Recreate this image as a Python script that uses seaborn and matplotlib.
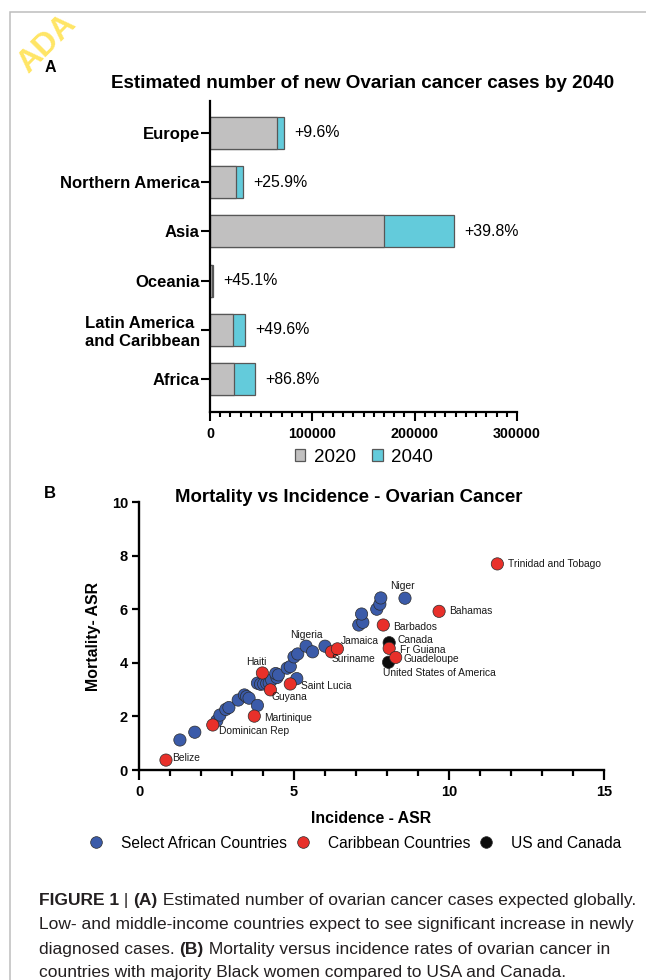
"""
Figure 1: ovarian cancer cases by region (A) and mortality vs incidence (B).
"""

import pandas as pd
import numpy as np
import matplotlib.pyplot as plt
import seaborn as sns
from matplotlib import font_manager
from matplotlib.ticker import MultipleLocator
from matplotlib.transforms import IdentityTransform
import warnings
warnings.filterwarnings('ignore')

sns.set_style('ticks')
plt.rcParams['font.family'] = ['Liberation Sans', 'DejaVu Sans']
for key in ['text.color', 'axes.labelcolor', 'xtick.color', 'ytick.color', 'axes.edgecolor']:
    plt.rcParams[key] = 'black'

# ---------- Data: panel A ----------
regions = ['Europe', 'Northern America', 'Asia', 'Oceania',
           'Latin America\nand Caribbean', 'Africa']
cases_2020 = [65800, 25700, 170000, 1900, 22800, 23400]
cases_2040 = [72600, 32500, 238300, 2800, 34300, 44300]
pct_change = ['+9.6%', '+25.9%', '+39.8%', '+45.1%', '+49.6%', '+86.8%']

# ---------- Data: panel B ----------
african_inc = [1.32, 1.80, 2.51, 2.61, 2.80, 2.90, 3.20, 3.40, 3.47, 3.55, 3.82,
               3.82, 3.92, 4.02, 4.12, 4.20, 4.28, 4.45, 4.41, 4.50, 4.78, 4.88,
               5.09, 5.00, 5.12, 5.39, 5.60, 6.00, 7.09, 7.22, 7.18, 7.67, 7.77,
               7.80, 8.58]
african_mort = [1.12, 1.41, 1.84, 2.05, 2.26, 2.33, 2.61, 2.80, 2.74, 2.68, 2.41,
                3.24, 3.20, 3.21, 3.23, 3.25, 3.36, 3.45, 3.60, 3.55, 3.80, 3.86,
                3.41, 4.22, 4.33, 4.62, 4.41, 4.62, 5.41, 5.51, 5.82, 6.00, 6.19,
                6.42, 6.41]

carib_names = ['Belize', 'Dominican Rep', 'Martinique', 'Haiti', 'Guyana',
               'Saint Lucia', 'Suriname', 'Jamaica', 'Barbados', 'Fr Guiana',
               'Guadeloupe', 'Bahamas', 'Trinidad and Tobago']
carib_inc = [0.87, 2.38, 3.72, 3.98, 4.24, 4.88, 6.21, 6.40, 7.88, 8.07, 8.28, 9.68, 11.56]
carib_mort = [0.37, 1.68, 2.01, 3.62, 2.99, 3.21, 4.41, 4.52, 5.41, 4.54, 4.20, 5.92, 7.69]

usca_names = ['Canada', 'United States of America']
usca_inc = [8.07, 8.05]
usca_mort = [4.75, 4.02]

labelled_african = ['Nigeria', 'Niger']
labelled_african_inc = [5.39, 8.58]
labelled_african_mort = [4.62, 6.41]

group_names = ['Select African Countries', 'Caribbean Countries', 'US and Canada']

# Colors
grey = '#C1C0C0'
cyan = '#63CBDB'
bar_edge = '#575757'
group_colors = ['#3B5BA9', '#E8302A', '#0B0B0B']

W, H = 646, 980
fig = plt.figure(figsize=(W / 100, H / 100), dpi=100)


def px_axes(x0, y0, x1, y1):
    # pixel box (top-left origin) -> figure fraction rect
    return [x0 / W, 1 - y1 / H, (x1 - x0) / W, (y1 - y0) / H]


# ============ PANEL A ============
axA = fig.add_axes(px_axes(210, 101, 517, 412))
dfA = pd.DataFrame({'region': regions, 'y2020': cases_2020, 'y2040': cases_2040})

sns.barplot(data=dfA, x='y2040', y='region', color=cyan, saturation=1, width=0.65,
            edgecolor=bar_edge, linewidth=0.9, label='2040', ax=axA)
sns.barplot(data=dfA, x='y2020', y='region', color=grey, saturation=1, width=0.65,
            edgecolor=bar_edge, linewidth=0.9, label='2020', ax=axA)
hA, lA = axA.get_legend_handles_labels()
if axA.get_legend() is not None:
    axA.get_legend().remove()

axA.set_xlim(0, 300000)
axA.set_ylim(5.67, -0.65)
axA.set_xlabel('')
axA.set_ylabel('')
axA.set_xticks([0, 100000, 200000, 300000])
axA.set_xticklabels(['0', '100000', '200000', '300000'])
axA.xaxis.set_minor_locator(MultipleLocator(10000))
axA.tick_params(axis='x', which='major', length=6.5, width=1.5, pad=4, labelsize=10.3)
axA.tick_params(axis='x', which='minor', length=3.6, width=1.5)
axA.tick_params(axis='y', length=6.5, width=1.5, pad=0.8, labelsize=12)
for lbl in axA.get_xticklabels() + axA.get_yticklabels():
    lbl.set_fontweight('bold')
for lbl in axA.get_yticklabels():
    lbl.set_multialignment('left')
for side in ['left', 'bottom']:
    axA.spines[side].set_linewidth(1.6)
sns.despine(ax=axA)

for i, (v, pct) in enumerate(zip(cases_2040, pct_change)):
    axA.annotate(pct, (v, i), xytext=(10, 0), textcoords='offset pixels',
                 va='center', ha='left', fontsize=11.4)

fig.text(363 / W, 1 - 88 / H, 'Estimated number of new Ovarian cancer cases by 2040',
         ha='center', va='baseline', fontsize=13.6, fontweight='bold')
fig.text(50 / W, 1 - 68 / H, 'A', ha='center', va='center', fontsize=11.5, fontweight='bold')

order = [lA.index('2020'), lA.index('2040')]
fig.legend([hA[k] for k in order], [lA[k] for k in order], loc='center',
           bbox_to_anchor=(364 / W, 1 - 457 / H), ncol=2, frameon=False,
           fontsize=13.5, handlelength=0.55, handleheight=0.55,
           handletextpad=0.45, columnspacing=0.9, borderpad=0)

# ============ PANEL B ============
axB = fig.add_axes(px_axes(139, 502, 604, 770))
dfB = pd.concat([
    pd.DataFrame({'incidence': african_inc, 'mortality': african_mort, 'group': group_names[0]}),
    pd.DataFrame({'incidence': usca_inc, 'mortality': usca_mort, 'group': group_names[2]}),
    pd.DataFrame({'incidence': carib_inc, 'mortality': carib_mort, 'group': group_names[1]}),
], ignore_index=True)

sns.scatterplot(data=dfB, x='incidence', y='mortality', hue='group',
                hue_order=group_names, palette=group_colors, s=78,
                edgecolor='#2B2B2B', linewidth=0.5, ax=axB, zorder=3, clip_on=False)

hB, lB = axB.get_legend_handles_labels()
axB.get_legend().remove()

axB.set_xlim(0, 15)
axB.set_ylim(0, 10)
axB.set_xticks([0, 5, 10, 15])
axB.set_yticks([0, 2, 4, 6, 8, 10])
axB.xaxis.set_minor_locator(MultipleLocator(1))
axB.tick_params(axis='x', which='major', length=7, width=1.6, pad=3.5, labelsize=10.5)
axB.tick_params(axis='x', which='minor', length=4.5, width=1.6)
axB.tick_params(axis='y', length=5, width=1.6, pad=3, labelsize=10.5)
for lbl in axB.get_xticklabels() + axB.get_yticklabels():
    lbl.set_fontweight('bold')
for side in ['left', 'bottom']:
    axB.spines[side].set_linewidth(1.7)
sns.despine(ax=axB)
axB.set_xlabel('Incidence - ASR', fontsize=11.4, fontweight='bold', labelpad=9)
axB.set_ylabel('Mortality- ASR', fontsize=11.4, fontweight='bold', labelpad=8)

# point labels: name -> (dx_px, dy_px, ha)
label_offsets = {
    'Belize': (6, 2, 'left'), 'Dominican Rep': (6, -6, 'left'),
    'Martinique': (10, -2, 'left'), 'Haiti': (-6, 11, 'center'),
    'Guyana': (1, -7, 'left'), 'Saint Lucia': (11, -2, 'left'),
    'Suriname': (0, -7, 'left'), 'Jamaica': (3, 8, 'left'),
    'Barbados': (10, -2, 'left'), 'Fr Guiana': (11, -2, 'left'),
    'Guadeloupe': (8, -2, 'left'), 'Bahamas': (10, 0, 'left'),
    'Trinidad and Tobago': (11, 0, 'left'), 'Canada': (8, 3, 'left'),
    'United States of America': (-6, -11, 'left'),
    'Nigeria': (0, 11, 'center'), 'Niger': (-3, 12, 'center'),
}
all_names = carib_names + usca_names + labelled_african
all_x = carib_inc + usca_inc + labelled_african_inc
all_y = carib_mort + usca_mort + labelled_african_mort
for name, x, y in zip(all_names, all_x, all_y):
    dx, dy, ha = label_offsets[name]
    axB.annotate(name, (x, y), xytext=(dx, dy), textcoords='offset pixels',
                 ha=ha, va='center', fontsize=7.4, color='#1A1A1A', zorder=4)

fig.text(349 / W, 1 - 502 / H, 'Mortality vs Incidence - Ovarian Cancer',
         ha='center', va='baseline', fontsize=13.4, fontweight='bold')
fig.text(50 / W, 1 - 493 / H, 'B', ha='center', va='center', fontsize=12, fontweight='bold')

fig.legend(hB, lB, loc='center', bbox_to_anchor=(354 / W, 1 - 843 / H), ncol=3,
           frameon=False, fontsize=11.2, handlelength=1.2, handletextpad=1.0,
           columnspacing=0.45, borderpad=0, markerscale=0.95)

# ============ Frame, watermark, caption ============
fig.add_artist(plt.Rectangle((10 / W, -0.05), 1.2, 1.05 - 12 / H, transform=fig.transFigure,
                             fill=False, edgecolor='#BDBDBD', linewidth=1.1))
fig.text(47 / W, 1 - 44 / H, 'ADA', rotation=45, ha='center', va='center',
         fontsize=23, fontweight='bold', color='#FFE14A', alpha=0.85)

names = {f.name for f in font_manager.fontManager.ttflist}
cap_font = 'Liberation Sans Narrow' if 'Liberation Sans Narrow' in names else 'Liberation Sans'
renderer = fig.canvas.get_renderer()

caption = [
    [('FIGURE 1', 'bold'), (' | ', 'normal'), ('(A)', 'bold'),
     (' Estimated number of ovarian cancer cases expected globally.', 'normal')],
    [('Low- and middle-income countries expect to see significant increase in newly', 'normal')],
    [('diagnosed cases. ', 'normal'), ('(B)', 'bold'),
     (' Mortality versus incidence rates of ovarian cancer in', 'normal')],
    [('countries with majority Black women compared to USA and Canada.', 'normal')],
]
probe = fig.text(0, 0, caption[1][0][0], fontsize=10, family=cap_font)
cap_size = 10 * 595 / probe.get_window_extent(renderer).width
probe.remove()

baselines = [905, 929, 954, 977]
for parts, yb in zip(caption, baselines):
    x = 39
    for txt, weight in parts:
        t = fig.text(x, H - yb, txt, transform=IdentityTransform(), ha='left', va='baseline',
                     fontsize=cap_size, fontweight=weight, family=cap_font, color='#231F20')
        x = t.get_window_extent(renderer).x1

plt.savefig('out.png', dpi=100)
plt.close()
